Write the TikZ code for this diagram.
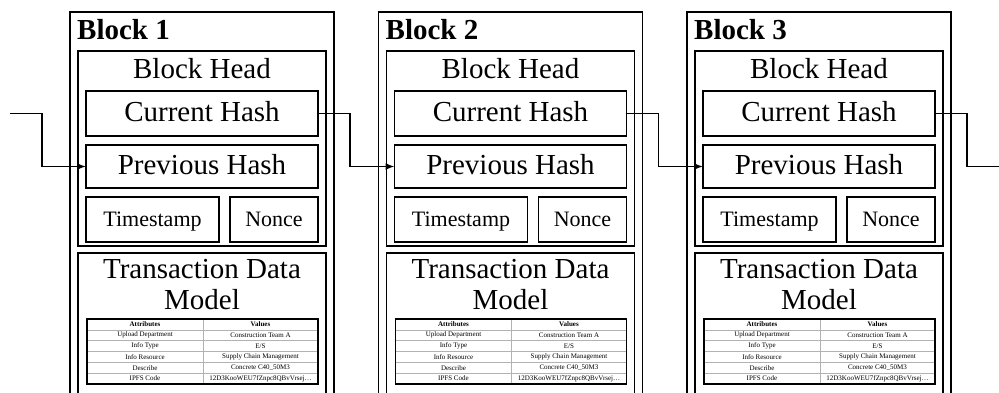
\documentclass[tikz,border=0pt]{standalone}
\usepackage{fontspec}
\setmainfont{Liberation Serif}
\usetikzlibrary{arrows.meta,calc}
\begin{document}
\begin{tikzpicture}[x=1pt,y=-1pt,
  box/.style={draw,line width=1.4pt,inner sep=0pt,outer sep=0pt,anchor=north west},
  big/.style={font=\fontsize{29}{31}\selectfont},
  bigbold/.style={font=\fontsize{29}{31}\selectfont\bfseries},
  bigc/.style={font=\fontsize{29}{31}\selectfont,text height=20pt,text depth=4pt},
  mid/.style={font=\fontsize{22}{24}\selectfont,text height=16pt,text depth=3pt},
  cell/.style={font=\fontsize{7}{8}\selectfont,inner sep=0pt},
  cellhead/.style={font=\fontsize{7}{8}\selectfont\bfseries,inner sep=0pt},
  grid/.style={draw=gray!60,line width=0.6pt},
  link/.style={line width=1.4pt},
  arr/.style={line width=1.4pt,-{Latex[length=9pt,width=7pt]}}]
\clip (0,0) rectangle (999,392);
\foreach \i in {1,2,3}{
  \pgfmathsetmacro{\off}{308.5*(\i-1)}
  \node[box,minimum width=264pt,minimum height=420pt] (outer\i) at (70+\off,12) {};
  \node[bigbold,anchor=base west,inner sep=0pt] (lab\i) at (77+\off,39) {Block \i};
  \node[box,minimum width=248pt,minimum height=195pt] (head\i) at (78+\off,51) {};
  \node[big,anchor=base,inner sep=0pt] (headlab\i) at (202+\off,78) {Block Head};
  \node[box,bigc,minimum width=232pt,minimum height=45pt] (cur\i) at (86+\off,91) {Current Hash};
  \node[box,bigc,minimum width=232pt,minimum height=43pt] (prev\i) at (86+\off,145) {Previous Hash};
  \node[box,mid,minimum width=133pt,minimum height=45pt] (ts\i) at (86+\off,197) {Timestamp};
  \node[box,mid,minimum width=88pt,minimum height=45pt] (non\i) at (230+\off,197) {Nonce};
  \node[box,minimum width=248pt,minimum height=400pt] (tx\i) at (78+\off,253) {};
  \node[big,align=center,anchor=north,inner sep=0pt] (txlab\i) at (202+\off,259) {Transaction Data\\Model};
  \node[box,line width=1.1pt,minimum width=231pt,minimum height=65pt] (tab\i) at (87+\off,319) {};
  \foreach \r in {1,2,3,4,5}{
    \draw[grid] ($(tab\i.north west)+(0.6,10.833*\r)$) -- ($(tab\i.north east)+(-0.6,10.833*\r)$);
  }
  \draw[grid] ($(tab\i.north west)+(116,0.6)$) -- ($(tab\i.south west)+(116,-0.6)$);
  \node[cellhead] (a0\i) at ($(tab\i.north west)+(58,5.42)$) {Attributes};
  \node[cellhead] (v0\i) at ($(tab\i.north west)+(173.5,5.42)$) {Values};
  \foreach \r/\a/\v in {1/{Upload Department}/{Construction Team A},
                        2/{Info Type}/{E/S},
                        3/{Info Resource}/{Supply Chain Management},
                        4/{Describe}/{Concrete C40\_50M3},
                        5/{IPFS Code}/{12D3KooWEU7fZnpc8QBvVrsej\ldots}}{
    \node[cell] (a\r\i) at ($(tab\i.north west)+(58,10.833*\r+5.42)$) {\a};
    \node[cell] (v\r\i) at ($(tab\i.north west)+(173.5,10.833*\r+5.42)$) {\v};
  }
}
\coordinate (in0) at (9.5,113.5);
\coordinate (out3) at (1010,166.5);
\draw[arr] (in0) -- ++(32.5,0) |- (prev1.west);
\foreach \i/\j in {1/2,2/3}{
  \draw[arr] (cur\i.east) -- ++(32,0) |- (prev\j.west);
}
\draw[link] (cur3.east) -- ++(32,0) |- (out3);
\end{tikzpicture}
\end{document}
